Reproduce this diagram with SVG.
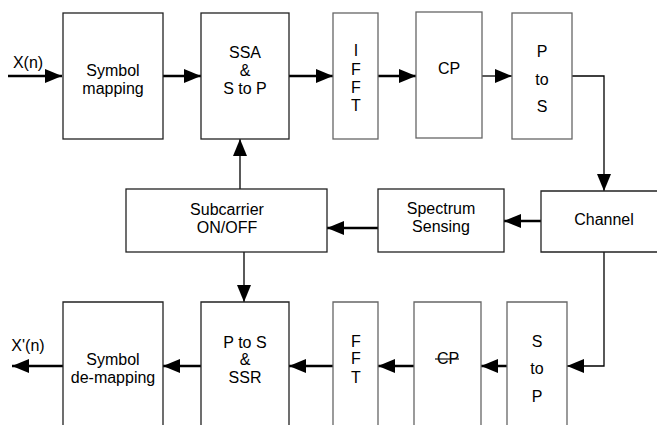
<svg xmlns="http://www.w3.org/2000/svg" width="657" height="425" viewBox="0 0 657 425">
<style>
.box{fill:#fff;stroke:#222;stroke-width:1.3}
.gbox{fill:#fff;stroke:#666;stroke-width:1.3}
text{font-family:"Liberation Sans",Arial,sans-serif;font-size:16px;fill:#000;text-anchor:middle}
.thick{stroke:#000;stroke-width:2.5;fill:none}
.thin{stroke:#000;stroke-width:1.3;fill:none}
</style>
<defs>
<marker id="ah" markerUnits="userSpaceOnUse" markerWidth="18" markerHeight="15" refX="17" refY="7" orient="auto">
<path d="M0,0 L17,7 L0,14 z" fill="#000"/>
</marker>
</defs>
<rect width="657" height="425" fill="#fff"/>

<g id="connectors">
<line class="thick" x1="8" y1="76" x2="62" y2="76" marker-end="url(#ah)"/>
<line class="thick" x1="163" y1="76" x2="201" y2="76" marker-end="url(#ah)"/>
<line class="thick" x1="289" y1="76" x2="333" y2="76" marker-end="url(#ah)"/>
<line class="thick" x1="378" y1="76" x2="416" y2="76" marker-end="url(#ah)"/>
<line class="thin" x1="482" y1="76" x2="512" y2="76" marker-end="url(#ah)"/>
<polyline class="thin" points="572,76 604,76 604,191" marker-end="url(#ah)"/>
<line class="thick" x1="541" y1="221" x2="504" y2="221" marker-end="url(#ah)"/>
<line class="thick" x1="378" y1="228" x2="327" y2="228" marker-end="url(#ah)"/>
<line class="thin" x1="240" y1="189" x2="240" y2="139" marker-end="url(#ah)"/>
<line class="thin" x1="244" y1="252" x2="244" y2="302" marker-end="url(#ah)"/>
<polyline class="thin" points="604,252 604,366 567,366" marker-end="url(#ah)"/>
<line class="thick" x1="507" y1="366" x2="481" y2="366" marker-end="url(#ah)"/>
<line class="thick" x1="414" y1="366" x2="378" y2="366" marker-end="url(#ah)"/>
<line class="thick" x1="333" y1="366" x2="289" y2="366" marker-end="url(#ah)"/>
<line class="thick" x1="201" y1="366" x2="163" y2="366" marker-end="url(#ah)"/>
<line class="thick" x1="63" y1="366" x2="12" y2="366" marker-end="url(#ah)"/>
</g>

<text x="28" y="68">X(n)</text>
<text x="28" y="351">X'(n)</text>

<g id="symbol-mapping">
<rect class="box" x="63" y="13" width="100" height="126"/>
<text x="113" y="76">Symbol</text>
<text x="113" y="94">mapping</text>
</g>
<g id="ssa-stop">
<rect class="box" x="201" y="13" width="88" height="126"/>
<text x="245" y="57.5">SSA</text>
<text x="245" y="76">&amp;</text>
<text x="245" y="93.5">S to P</text>
</g>
<g id="ifft">
<rect class="gbox" x="333" y="13" width="45" height="126"/>
<text x="356" y="55.5">I</text>
<text x="356" y="74.5">F</text>
<text x="356" y="92.5">F</text>
<text x="356" y="111">T</text>
</g>
<g id="cp-tx">
<rect class="gbox" x="416" y="12" width="66" height="126"/>
<text x="449" y="73.5">CP</text>
</g>
<g id="ptos-tx">
<rect class="gbox" x="512" y="13" width="60" height="126"/>
<text x="542" y="56.5">P</text>
<text x="542" y="84.5">to</text>
<text x="542" y="111.5">S</text>
</g>
<g id="subcarrier">
<rect class="box" x="126" y="189" width="201" height="63"/>
<text x="227" y="214.5">Subcarrier</text>
<text x="227" y="232.5">ON/OFF</text>
</g>
<g id="spectrum-sensing">
<rect class="box" x="378" y="189" width="126" height="63"/>
<text x="441" y="214">Spectrum</text>
<text x="441" y="232">Sensing</text>
</g>
<g id="channel">
<path class="box" d="M660,191 L541,191 L541,252 L660,252"/>
<text x="604" y="224.5">Channel</text>
</g>
<g id="symbol-demapping">
<path class="box" d="M63,430 L63,302 L163,302 L163,430"/>
<text x="113" y="364.5">Symbol</text>
<text x="113" y="382.5">de-mapping</text>
</g>
<g id="ptos-ssr">
<path class="box" d="M201,430 L201,302 L289,302 L289,430"/>
<text x="245" y="347.5">P to S</text>
<text x="245" y="364.5">&amp;</text>
<text x="245" y="382.5">SSR</text>
</g>
<g id="fft">
<path class="gbox" d="M333,430 L333,302 L378,302 L378,430"/>
<text x="356" y="346.5">F</text>
<text x="356" y="364">F</text>
<text x="356" y="382.5">T</text>
</g>
<g id="cp-rx">
<path class="gbox" d="M414,430 L414,302 L481,302 L481,430"/>
<text x="448" y="364">CP</text>
<line x1="435" y1="359" x2="459" y2="359" stroke="#111" stroke-width="1.2"/>
</g>
<g id="stop-rx">
<path class="gbox" d="M507,430 L507,302 L567,302 L567,430"/>
<text x="537" y="346.5">S</text>
<text x="537" y="373.5">to</text>
<text x="537" y="401.5">P</text>
</g>
</svg>
